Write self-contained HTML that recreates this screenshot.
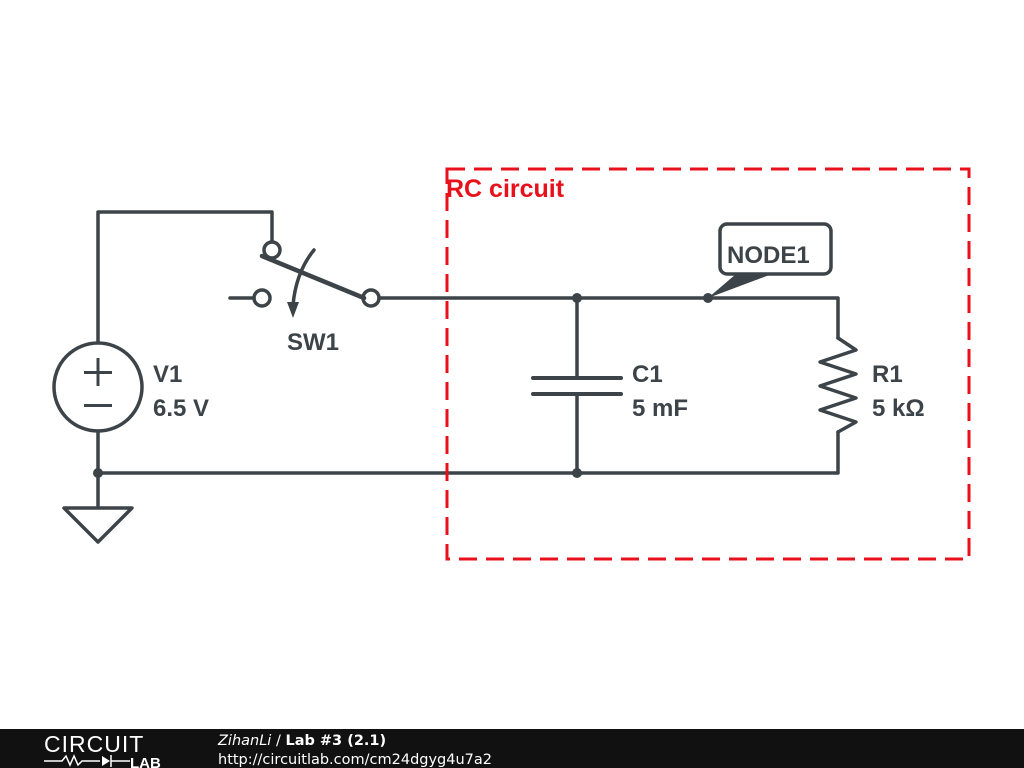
<!DOCTYPE html>
<html><head><meta charset="utf-8"><style>
html,body{margin:0;padding:0;background:#fff;width:1024px;height:768px;overflow:hidden}
svg{display:block}
.t{font-family:"Liberation Sans",Arial,sans-serif;font-weight:bold}
</style></head><body>
<svg width="1024" height="768" viewBox="0 0 1024 768" xmlns="http://www.w3.org/2000/svg">
<g stroke="#3d4449" stroke-width="3.5" fill="none" stroke-linecap="round" stroke-linejoin="round">
  <polyline points="98,342 98,212 272,212 272,242"/>
  <circle cx="98" cy="387" r="44"/>
  <line x1="98" y1="431" x2="98" y2="506"/>
  <polygon points="64,508 132,508 98,542"/>
  <polyline points="98,473 838,473 838,432"/>
  <circle cx="272" cy="250" r="8"/>
  <circle cx="262" cy="298" r="8"/>
  <line x1="230" y1="298" x2="254" y2="298"/>
  <line x1="262" y1="256" x2="364" y2="298" stroke-width="4.5"/>
  <circle cx="371" cy="298" r="8"/>
  <path d="M314,250 Q296,272 293,305"/>
  <polyline points="379,298 838,298 838,338"/>
  <polyline points="838,338 856,350 820,362 856,374 820,386 856,398 820,410 856,422 838,432"/>
  <line x1="577" y1="298" x2="577" y2="378"/>
  <line x1="533" y1="378" x2="621" y2="378" stroke-width="4"/>
  <line x1="533" y1="394" x2="621" y2="394" stroke-width="4"/>
  <line x1="577" y1="394" x2="577" y2="473"/>
  <rect x="720" y="224" width="111" height="50" rx="7" fill="#fff"/>
</g>
<g fill="#3d4449">
  <polygon points="287,302 299,302 293,318"/>
  <polygon points="708,298 736,274 772,274"/>
  <circle cx="708" cy="298" r="5"/>
  <circle cx="577" cy="298" r="5"/>
  <circle cx="577" cy="473" r="5"/>
  <circle cx="98" cy="473" r="5"/>
  <rect x="84" y="371" width="28" height="3"/>
  <rect x="96.5" y="358" width="3" height="28"/>
  <rect x="84" y="404" width="28" height="3"/>
</g>
<g fill="#3d4449" class="t" font-size="24">
  <text x="727" y="263">NODE1</text>
  <text x="287" y="350">SW1</text>
  <text x="153" y="382">V1</text>
  <text x="153" y="416">6.5 V</text>
  <text x="632" y="382">C1</text>
  <text x="632" y="416">5 mF</text>
  <text x="872" y="382">R1</text>
  <text x="872" y="416">5 kΩ</text>
</g>
<rect x="447" y="169" width="522" height="390" fill="none" stroke="#e8101a" stroke-width="3" stroke-dasharray="18,9"/>
<text x="446" y="197" fill="#e8101a" class="t" font-size="25">RC circuit</text>
<rect x="0" y="729" width="1024" height="39" fill="#111"/>
<text x="44" y="752" fill="#fff" font-size="23" font-family="'Liberation Sans',sans-serif" letter-spacing="1">CIRCUIT</text>
<polyline points="44,761 62,761 66,756 70,765 74,756 78,765 82,761 100,761" fill="none" stroke="#fff" stroke-width="1.5"/>
<polygon points="102,756 102,766 110,761" fill="#fff"/>
<line x1="111" y1="755" x2="111" y2="767" stroke="#fff" stroke-width="1.5"/>
<line x1="111" y1="761" x2="130" y2="761" stroke="#fff" stroke-width="1.5"/>
<text x="130" y="768" fill="#fff" font-weight="bold" font-size="15" font-family="'Liberation Sans',sans-serif">LAB</text>
<text x="218" y="745" fill="#fff" font-size="14.5" font-family="'DejaVu Sans',sans-serif"><tspan font-style="italic">ZihanLi</tspan> / <tspan font-weight="bold">Lab #3 (2.1)</tspan></text>
<text x="218" y="764" fill="#fff" font-size="14.5" font-family="'DejaVu Sans',sans-serif">http://circuitlab.com/cm24dgyg4u7a2</text>
</svg>
</body></html>
